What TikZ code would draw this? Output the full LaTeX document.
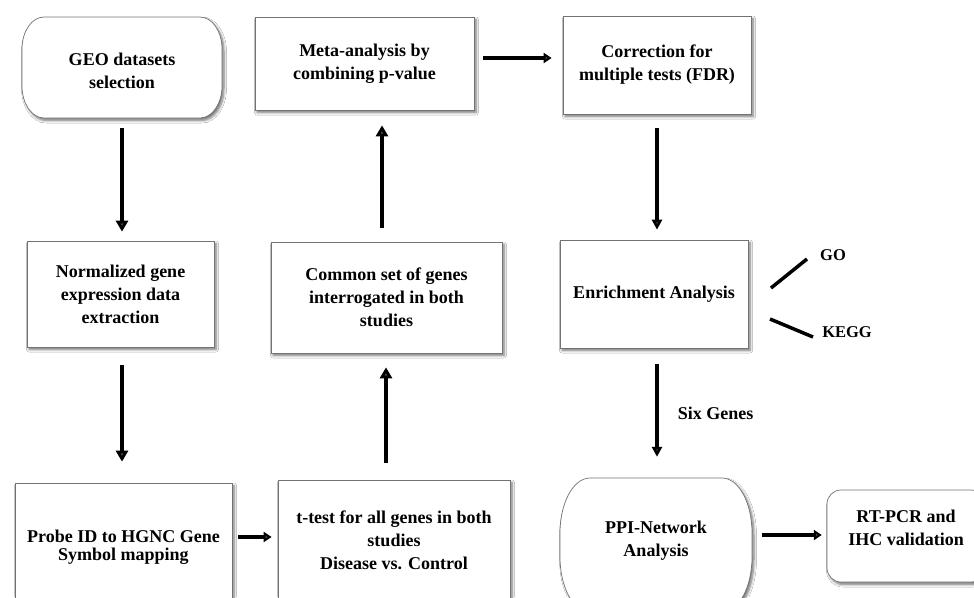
\documentclass[tikz,border=0pt]{standalone}
\usepackage{fontspec}
\setmainfont{Liberation Serif}
\usetikzlibrary{arrows.meta,shadows.blur}

\tikzset{
    x=1pt, y=1pt,
    txt/.style={align=center, inner sep=0pt, font=\bfseries\fontsize{18}{23}\selectfont},
    box/.style={txt, draw=black!55, line width=0.7pt, fill=white,
        blur shadow={shadow xshift=2pt, shadow yshift=-2.5pt, shadow blur steps=6,
                     shadow blur radius=2.5pt, shadow opacity=55}},
    outline/.style={draw=black!55, line width=0.7pt, fill=white,
        blur shadow={shadow xshift=2pt, shadow yshift=-2.5pt, shadow blur steps=6,
                     shadow blur radius=2.5pt, shadow opacity=55}},
    arr/.style={line width=4.5pt, -{Triangle[length=11pt,width=12pt]}},
    harr/.style={line width=4pt, -{Triangle[length=8pt,width=10pt]}},
    thinarr/.style={line width=3.5pt, -{Triangle[length=10pt,width=10pt]}},
    branch/.style={line width=3.5pt},
    lbl/.style={inner sep=0pt, font=\bfseries\fontsize{18}{23}\selectfont},
    smalllbl/.style={inner sep=0pt, font=\bfseries\fontsize{16.5}{20}\selectfont}
}

\begin{document}
\begin{tikzpicture}
    \useasboundingbox (0,0) rectangle (974,-597);
    \clip (0,0) rectangle (974,-597);
    \fill[white] (0,0) rectangle (974,-597);

    \def\geoshape{(44,-17) -- (200,-17) arc[start angle=90,end angle=0,x radius=22,y radius=32]
        -- (222,-86) arc[start angle=0,end angle=-90,x radius=22,y radius=32]
        -- (44,-118) arc[start angle=-90,end angle=-180,x radius=22,y radius=32]
        -- (22,-49) arc[start angle=180,end angle=90,x radius=22,y radius=32] -- cycle}
    \def\ppishape{(590,-478) -- (722,-478) arc[start angle=90,end angle=0,x radius=30,y radius=55]
        -- (752,-557) arc[start angle=0,end angle=-90,x radius=30,y radius=55]
        -- (590,-612) arc[start angle=-90,end angle=-180,x radius=30,y radius=55]
        -- (560,-533) arc[start angle=180,end angle=90,x radius=30,y radius=55] -- cycle}

    % rounded start / end shapes
    \path[outline] \geoshape;
    \path[outline] \ppishape;
    \path[outline, rounded corners=14pt] (827,-490) rectangle (985,-582);

    % first column
    \node[txt, minimum width=200pt, minimum height=94pt] (geo) at (122,-71) {GEO datasets\\selection};
    \node[box, minimum width=187pt, minimum height=106pt] (norm) at (120.5,-294) {Normalized gene\\expression data\\extraction};
    \node[box, minimum width=217pt, minimum height=128pt, font=\bfseries\fontsize{18}{18}\selectfont] (probe) at (123.5,-547) {Probe ID to HGNC Gene\\Symbol mapping};

    % second column
    \node[box, minimum width=219pt, minimum height=93pt] (meta) at (364.5,-63.5) {Meta-analysis by\\combining p-value};
    \node[box, minimum width=231pt, minimum height=111pt] (common) at (386.5,-297.5) {Common set of genes\\interrogated in both\\studies};
    \node[box, minimum width=232pt, minimum height=120pt] (ttest) at (394,-540) {t-test for all genes in both\\studies\\Disease vs. Control};

    % third column
    \node[box, minimum width=188pt, minimum height=98pt] (fdr) at (657,-65) {Correction for\\multiple tests (FDR)};
    \node[box, minimum width=188pt, minimum height=108pt] (enrich) at (654,-294) {Enrichment Analysis};
    \node[txt, minimum width=192pt, minimum height=126pt] (ppi) at (656,-541) {PPI-Network\\Analysis};
    \node[txt, minimum width=158pt] (rtpcr) at (906,-528) {RT-PCR and\\IHC validation};

    % enrichment branches
    \coordinate (goA) at (771,-288);
    \coordinate (goB) at (807,-259);
    \coordinate (keggA) at (770,-319);
    \coordinate (keggB) at (813,-337);
    \node[smalllbl] (go) at (833,-255) {GO};
    \node[smalllbl] (kegg) at (847,-332) {KEGG};
    \draw[branch] (goA) -- (goB);
    \draw[branch] (keggA) -- (keggB);

    % flow
    \draw[arr, shorten <=10pt, shorten >=9pt] (geo.south) -- (geo.south |- norm.north);
    \draw[arr, shorten <=18pt, shorten >=21pt] ([xshift=1.5pt]norm.south) -- ([xshift=1.5pt]norm.south |- probe.north);
    \draw[harr, shorten <=6pt, shorten >=6pt] ([yshift=10pt]probe.east) -- ([yshift=10pt]probe.east -| ttest.west);
    \draw[arr, shorten <=17pt, shorten >=14pt] ([xshift=-8pt]ttest.north) -- ([xshift=-8pt]ttest.north |- common.south);
    \draw[arr, shorten <=14pt, shorten >=15pt] ([xshift=-4.5pt]common.north) -- ([xshift=-4.5pt]common.north |- meta.south);
    \draw[harr, shorten <=9pt, shorten >=11pt] ([yshift=5.5pt]meta.east) -- ([yshift=5.5pt]meta.east -| fdr.west);
    \draw[thinarr, shorten <=14pt, shorten >=10pt] (fdr.south) -- (fdr.south |- enrich.north);
    \draw[thinarr, shorten <=16pt, shorten >=21pt] ([xshift=3pt]enrich.south) -- ([xshift=3pt]enrich.south |- ppi.north)
        node[lbl, midway, right=19pt] {Six Genes};
    \draw[harr, shorten <=10pt, shorten >=5pt] ([yshift=6pt]ppi.east) -- ([yshift=6pt]ppi.east -| rtpcr.west);
\end{tikzpicture}
\end{document}
